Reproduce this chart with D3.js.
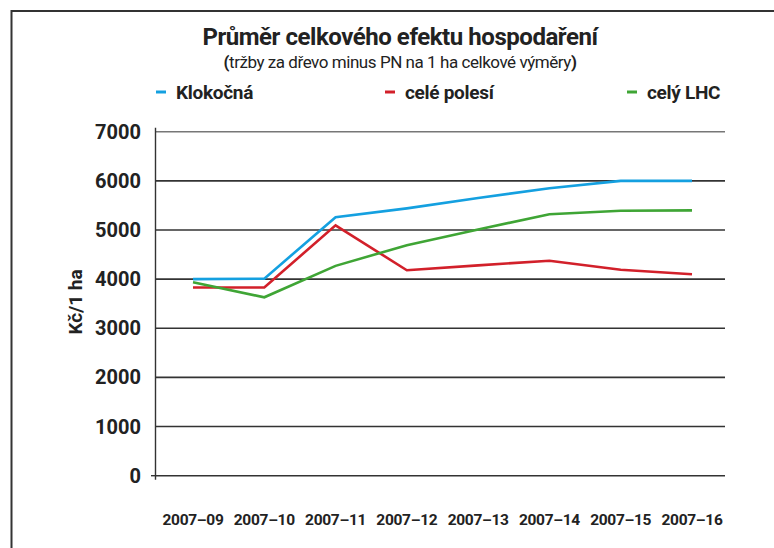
<!DOCTYPE html>
<html>
<head>
<meta charset="utf-8">
<script src="https://cdn.jsdelivr.net/npm/d3@7"></script>
<style>
  body { margin: 0; background: #fff; }
  text { font-family: Roboto, "Liberation Sans", sans-serif; fill: #222; }
</style>
</head>
<body>
<div id="chart"></div>
<script>
// data
const years = ["2007–09", "2007–10", "2007–11", "2007–12", "2007–13", "2007–14", "2007–15", "2007–16"];
const klokocna = [4000, 4010, 5260, 5440, 5650, 5850, 6000, 6000];
const celePolesi = [3830, 3830, 5095, 4180, 4280, 4375, 4190, 4100];
const celyLHC = [3935, 3630, 4270, 4690, 5010, 5320, 5390, 5400];
const yTicks = [0, 1000, 2000, 3000, 4000, 5000, 6000, 7000];

const series = [
    {name: "Klokočná", values: klokocna, color: "#14a0e0", lx: 156},
    {name: "celé polesí", values: celePolesi, color: "#d2202a", lx: 385},
    {name: "celý LHC", values: celyLHC, color: "#3fa535", lx: 627}
];

const W = 774, H = 548;
const plot = {left: 156, right: 725, top: 131.7, bottom: 475.7};

const svg = d3.select("#chart").append("svg")
    .attr("width", W)
    .attr("height", H);

// outer frame (only top and left edges are in view)
svg.append("path")
    .attr("d", `M774,11 H11.5 V548`)
    .attr("fill", "none")
    .attr("stroke", "#333")
    .attr("stroke-width", 2);

// titles
svg.append("text")
    .attr("x", 400).attr("y", 45)
    .attr("text-anchor", "middle")
    .style("font-size", "24px")
    .style("font-weight", "bold")
    .style("letter-spacing", "-0.45px")
    .text("Průměr celkového efektu hospodaření");

const sub = svg.append("text")
    .attr("x", 400).attr("y", 67.5)
    .attr("text-anchor", "middle")
    .style("font-size", "17px")
    .style("letter-spacing", "-0.45px");
sub.append("tspan").style("font-weight", "bold").text("(");
sub.append("tspan").text("tržby za dřevo minus PN na 1 ha celkové výměry");
sub.append("tspan").style("font-weight", "bold").text(")");

// legend
const leg = svg.selectAll(".leg")
    .data(series)
    .enter().append("g")
    .attr("class", "leg");

leg.append("line")
    .attr("x1", d => d.lx).attr("x2", d => d.lx + 10)
    .attr("y1", 92).attr("y2", 92)
    .attr("stroke", d => d.color)
    .attr("stroke-width", 3);

leg.append("text")
    .attr("x", d => d.lx + 20).attr("y", 99)
    .style("font-size", "19px")
    .style("font-weight", "bold")
    .style("letter-spacing", "-0.3px")
    .text(d => d.name);

// scales
const x = d3.scalePoint()
    .domain(years)
    .range([193, 692]);

const y = d3.scaleLinear()
    .domain([0, 7000])
    .range([plot.bottom, plot.top]);

// grid lines
svg.append("g")
    .selectAll("line")
    .data(yTicks)
    .enter().append("line")
    .attr("x1", plot.left).attr("x2", plot.right)
    .attr("y1", d => y(d)).attr("y2", d => y(d))
    .attr("stroke", d => d === 7000 ? "#777" : "#333")
    .attr("stroke-width", 1.6);

// y axis line + little tick at zero
svg.append("line")
    .attr("x1", plot.left - 0.5).attr("x2", plot.left - 0.5)
    .attr("y1", plot.top - 4).attr("y2", plot.bottom + 4)
    .attr("stroke", "#333")
    .attr("stroke-width", 1.4);
svg.append("line")
    .attr("x1", plot.left - 5).attr("x2", plot.left)
    .attr("y1", y(0)).attr("y2", y(0))
    .attr("stroke", "#333")
    .attr("stroke-width", 1.4);

// y tick labels
svg.append("g")
    .selectAll("text")
    .data(yTicks)
    .enter().append("text")
    .attr("x", 141)
    .attr("y", d => y(d) + 7)
    .attr("text-anchor", "end")
    .style("font-size", "20px")
    .style("font-weight", "bold")
    .text(d => d);

// y axis title
svg.append("text")
    .attr("transform", "translate(82,302) rotate(-90)")
    .attr("text-anchor", "middle")
    .style("font-size", "19px")
    .style("font-weight", "bold")
    .text("Kč/1 ha");

// x labels
svg.append("g")
    .selectAll("text")
    .data(years)
    .enter().append("text")
    .attr("x", d => x(d))
    .attr("y", 525)
    .attr("text-anchor", "middle")
    .style("font-size", "15.5px")
    .style("font-weight", "bold")
    .style("letter-spacing", "-0.3px")
    .text(d => d);

// lines
const line = d3.line()
    .x((d, i) => x(years[i]))
    .y(d => y(d));

svg.append("g")
    .selectAll("path")
    .data(series)
    .enter().append("path")
    .attr("fill", "none")
    .attr("stroke", d => d.color)
    .attr("stroke-width", 2.6)
    .attr("d", d => line(d.values));
</script>
</body>
</html>
